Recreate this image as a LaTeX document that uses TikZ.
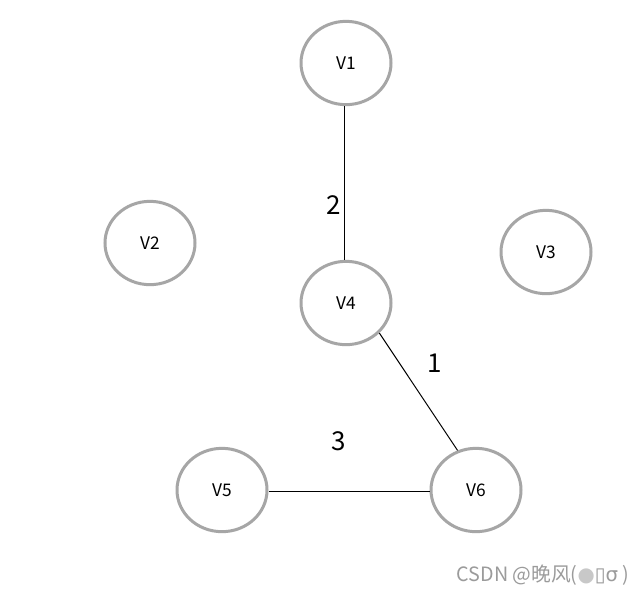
\documentclass[tikz,border=0pt]{standalone}
\usepackage{fontspec}
\usetikzlibrary{shapes.geometric}
\setmainfont{Noto Sans CJK SC}
\newfontfamily\symfont{DejaVu Sans}
\definecolor{ringgray}{RGB}{166,166,166}
\definecolor{markgray}{RGB}{155,155,155}
\definecolor{dotgray}{RGB}{200,200,200}
\begin{document}
\begin{tikzpicture}[x=0.75pt,y=-0.75pt,
  vert/.style={draw=ringgray,line width=2.25pt,ellipse,minimum width=67.5pt,minimum height=62.5pt,inner sep=0pt,font=\fontsize{13}{15}\selectfont},
  edge/.style={draw=black,line width=0.75pt},
  wlab/.style={font=\fontsize{19.5}{22}\selectfont,inner sep=0pt}
  ]
\path[use as bounding box,fill=white] (0,0) rectangle (642,594);
\node[vert] (v1) at (346,63) {V1};
\node[vert] (v2) at (150,243) {V2};
\node[vert] (v3) at (546,252) {V3};
\node[vert] (v4) at (346,303) {V4};
\node[vert] (v5) at (222,490) {V5};
\node[vert] (v6) at (476,490) {V6};
\draw[edge] (v1.south -| 344,0) -- (v4.north -| 344,0);
\draw[edge] (v4.-42) -- (v6.115);
\draw[edge] (v5.east |- 0,491) -- (v6.west |- 0,491);
\node[wlab] (l2) at (334,205) {2};
\node[wlab] (l1) at (435,363) {1};
\node[wlab] (l3) at (339,441) {3};
\node[font=\fontsize{14.8}{16}\selectfont,text=markgray,inner sep=0pt] (wm) at (543,575) {CSDN @晚风({\symfont\textcolor{dotgray}{●}▯σ} )};
\end{tikzpicture}
\end{document}
